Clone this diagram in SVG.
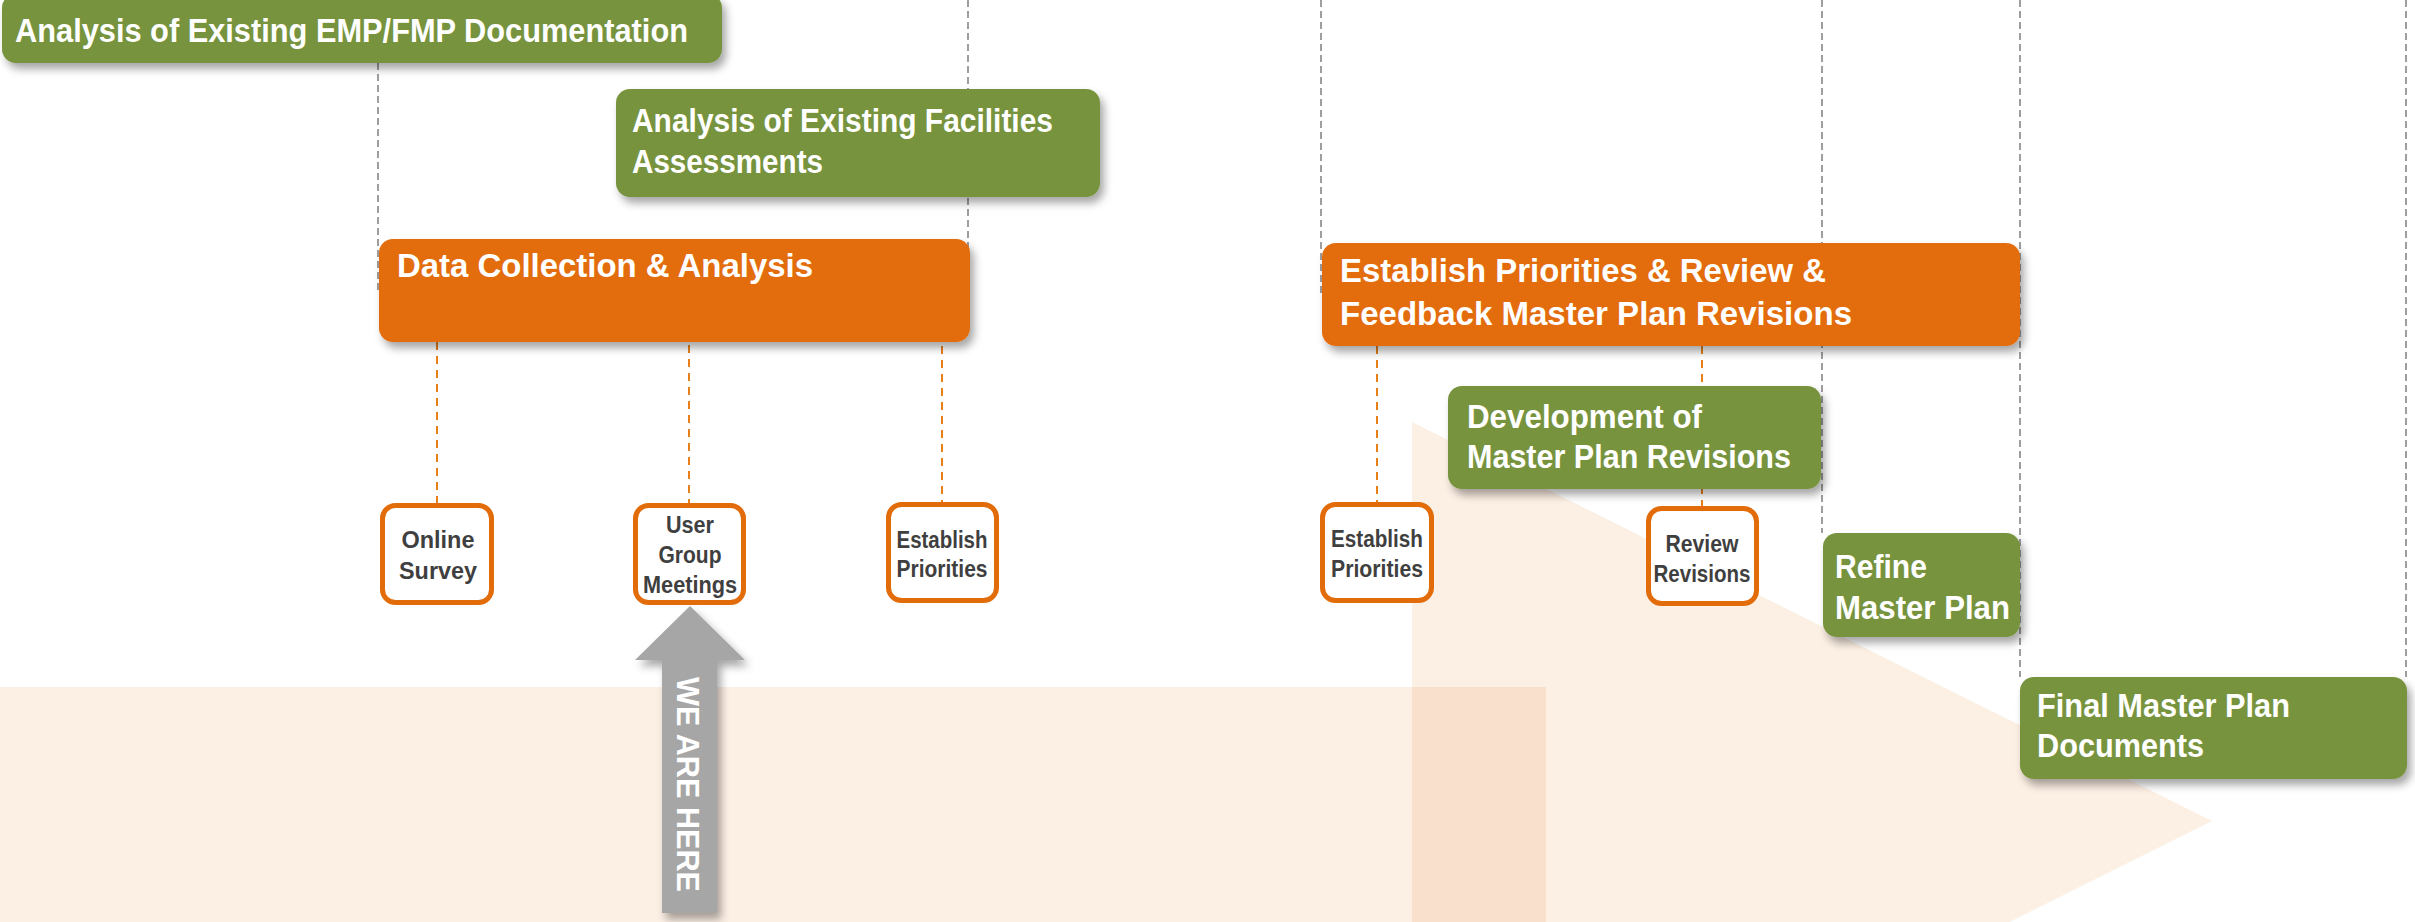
<svg xmlns="http://www.w3.org/2000/svg" width="2415" height="922" viewBox="0 0 2415 922">
<defs>
<filter id="sh" x="-10%" y="-20%" width="130%" height="160%">
<feDropShadow dx="4" dy="6" stdDeviation="4" flood-color="#000" flood-opacity="0.35"/>
</filter>
<style>
.g{fill:#77933C}
.o{fill:#E36C0A}
.big{font-family:"Liberation Sans Narrow","Liberation Sans",Arial,sans-serif;font-weight:bold;font-size:33px;fill:#fff}
.sm{font-family:"Liberation Sans Narrow","Liberation Sans",Arial,sans-serif;font-weight:bold;font-size:23px;fill:#3F3F3F;text-anchor:middle}
.sb{fill:#fff;stroke:#E36C0A;stroke-width:5}
.gd{stroke:#7F7F7F;stroke-width:1.5;stroke-dasharray:7 4;fill:none}
.od{stroke:#E8801A;stroke-width:2;stroke-dasharray:8 6;fill:none}
.bg{fill:#E36C0A;opacity:0.11}
</style>
</defs>
<rect width="2415" height="922" fill="#fff"/>
<g id="background">
<rect class="bg" x="0" y="687" width="1546" height="235"/>
<polygon class="bg" points="1412,422 2212,821 1412,1220"/>
</g>
<g id="connectors">
<line class="gd" x1="378" y1="63" x2="378" y2="290"/>
<line class="gd" x1="968" y1="0" x2="968" y2="290"/>
<line class="gd" x1="1321" y1="0" x2="1321" y2="293"/>
<line class="gd" x1="1822" y1="0" x2="1822" y2="533"/>
<line class="gd" x1="2020" y1="0" x2="2020" y2="677"/>
<line class="gd" x1="2406" y1="0" x2="2406" y2="677"/>
<line class="od" x1="437" y1="342" x2="437" y2="503"/>
<line class="od" x1="689" y1="345" x2="689" y2="503"/>
<line class="od" x1="942" y1="332" x2="942" y2="502"/>
<line class="od" x1="1377" y1="346" x2="1377" y2="502"/>
<line class="od" x1="1702" y1="346" x2="1702" y2="506"/>
</g>
<g id="emp-fmp">
<rect class="g" x="2" y="-6" width="720" height="69" rx="14" filter="url(#sh)"/>
<text class="big" x="15" y="42" textLength="673" lengthAdjust="spacingAndGlyphs">Analysis of Existing EMP/FMP Documentation</text>
</g>
<g id="facilities">
<rect class="g" x="616" y="89" width="484" height="108" rx="14" filter="url(#sh)"/>
<text class="big" x="632" y="132" textLength="421" lengthAdjust="spacingAndGlyphs">Analysis of Existing Facilities</text>
<text class="big" x="632" y="173" textLength="191" lengthAdjust="spacingAndGlyphs">Assessments</text>
</g>
<g id="data-collection">
<rect class="o" x="379" y="239" width="591" height="103" rx="14" filter="url(#sh)"/>
<text class="big" x="397" y="277" textLength="416" lengthAdjust="spacingAndGlyphs">Data Collection &amp; Analysis</text>
</g>
<g id="establish-review">
<rect class="o" x="1322" y="243" width="698" height="103" rx="14" filter="url(#sh)"/>
<text class="big" x="1340" y="282" textLength="486" lengthAdjust="spacingAndGlyphs">Establish Priorities &amp; Review &amp;</text>
<text class="big" x="1340" y="325" textLength="512" lengthAdjust="spacingAndGlyphs">Feedback Master Plan Revisions</text>
</g>
<g id="development">
<rect class="g" x="1448" y="386" width="373" height="103" rx="14" filter="url(#sh)"/>
<text class="big" x="1467" y="428" textLength="235" lengthAdjust="spacingAndGlyphs">Development of</text>
<text class="big" x="1467" y="468" textLength="324" lengthAdjust="spacingAndGlyphs">Master Plan Revisions</text>
</g>
<g id="refine">
<rect class="g" x="1823" y="533" width="197" height="104" rx="14" filter="url(#sh)"/>
<text class="big" x="1835" y="578" textLength="92" lengthAdjust="spacingAndGlyphs">Refine</text>
<text class="big" x="1835" y="619" textLength="175" lengthAdjust="spacingAndGlyphs">Master Plan</text>
</g>
<g id="final">
<rect class="g" x="2020" y="677" width="387" height="102" rx="14" filter="url(#sh)"/>
<text class="big" x="2037" y="717" textLength="253" lengthAdjust="spacingAndGlyphs">Final Master Plan</text>
<text class="big" x="2037" y="757" textLength="167" lengthAdjust="spacingAndGlyphs">Documents</text>
</g>
<g id="online-survey">
<rect class="sb" x="382.5" y="505.5" width="109" height="97" rx="13"/>
<text class="sm" x="438" y="548" font-size="24" textLength="73" lengthAdjust="spacingAndGlyphs">Online</text>
<text class="sm" x="438" y="579" font-size="24" textLength="78" lengthAdjust="spacingAndGlyphs">Survey</text>
</g>
<g id="user-group">
<rect class="sb" x="635.5" y="505.5" width="108" height="97" rx="13"/>
<text class="sm" x="690" y="533" textLength="48" lengthAdjust="spacingAndGlyphs">User</text>
<text class="sm" x="690" y="563" textLength="63" lengthAdjust="spacingAndGlyphs">Group</text>
<text class="sm" x="690" y="593" textLength="94" lengthAdjust="spacingAndGlyphs">Meetings</text>
</g>
<g id="establish-1">
<rect class="sb" x="888.5" y="504.5" width="108" height="96" rx="13"/>
<text class="sm" x="942" y="548" textLength="91" lengthAdjust="spacingAndGlyphs">Establish</text>
<text class="sm" x="942" y="577" textLength="91" lengthAdjust="spacingAndGlyphs">Priorities</text>
</g>
<g id="establish-2">
<rect class="sb" x="1322.5" y="504.5" width="109" height="96" rx="13"/>
<text class="sm" x="1377" y="547" textLength="92" lengthAdjust="spacingAndGlyphs">Establish</text>
<text class="sm" x="1377" y="577" textLength="92" lengthAdjust="spacingAndGlyphs">Priorities</text>
</g>
<g id="review">
<rect class="sb" x="1648.5" y="508.5" width="108" height="95" rx="13"/>
<text class="sm" x="1702" y="552" textLength="73" lengthAdjust="spacingAndGlyphs">Review</text>
<text class="sm" x="1702" y="582" textLength="97" lengthAdjust="spacingAndGlyphs">Revisions</text>
</g>
<g id="we-are-here">
<polygon points="690,606 745,660 717,660 717,913 662,913 662,660 635,660" fill="#A6A6A6" filter="url(#sh)"/>
<text transform="translate(677,784.5) rotate(90)" x="0" y="0" text-anchor="middle" font-family="Liberation Sans, Arial, sans-serif" font-weight="bold" font-size="32" fill="#fff" textLength="215" lengthAdjust="spacingAndGlyphs">WE ARE HERE</text>
</g>
</svg>
